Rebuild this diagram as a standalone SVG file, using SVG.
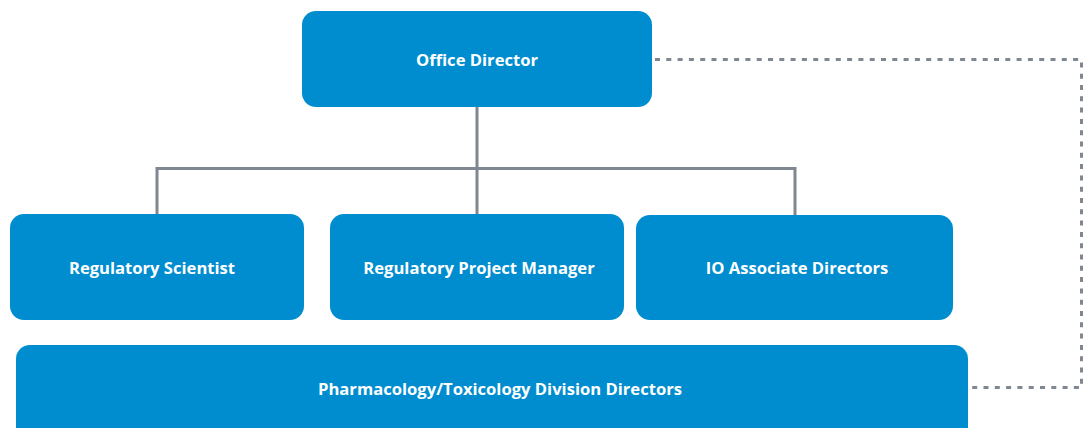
<svg xmlns="http://www.w3.org/2000/svg" width="1084" height="428" viewBox="0 0 1084 428">
<style>
.box{fill:#008DCF}
.lbl{fill:#fff;font-family:"Open Sans","Noto Sans",sans-serif;font-weight:bold;font-size:16.6px;text-anchor:middle;dominant-baseline:central}
.ln{fill:none;stroke:#7F8790;stroke-width:3}
.dash{fill:none;stroke:#7F8790;stroke-width:3;stroke-dasharray:5 6.3}
</style>
<rect width="1084" height="428" fill="#fff"/>
<g id="connectors">
<path class="ln" d="M477 107 V168.5 M157 214 V168.5 H795 V215 M477 168.5 V214"/>
<path class="dash" d="M655 59.5 H1081.5 V387.5 H970"/>
</g>
<g id="office-director">
<rect class="box" x="302" y="11" width="350" height="96" rx="14"/>
<text class="lbl" x="477" y="59">Office Director</text>
</g>
<g id="regulatory-scientist">
<rect class="box" x="10" y="214" width="294" height="106" rx="14"/>
<text class="lbl" x="152" y="267">Regulatory Scientist</text>
</g>
<g id="regulatory-project-manager">
<rect class="box" x="330" y="214" width="294" height="106" rx="14"/>
<text class="lbl" x="479" y="267">Regulatory Project Manager</text>
</g>
<g id="io-associate-directors">
<rect class="box" x="636" y="215" width="317" height="105" rx="14"/>
<text class="lbl" x="797" y="267">IO Associate Directors</text>
</g>
<g id="pharm-tox-division-directors">
<rect class="box" x="16" y="345" width="952" height="100" rx="14"/>
<text class="lbl" x="500" y="388">Pharmacology/Toxicology Division Directors</text>
</g>
</svg>
